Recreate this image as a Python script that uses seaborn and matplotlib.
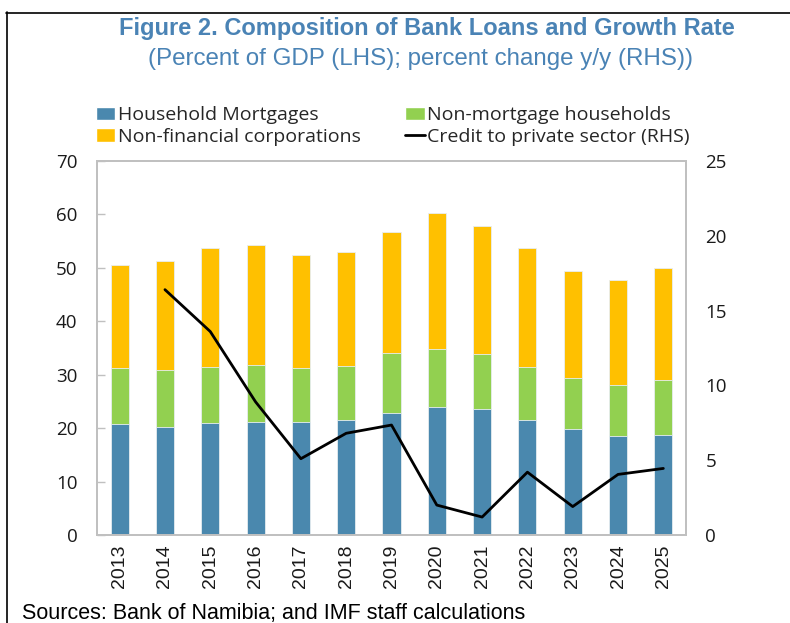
import numpy as np
import pandas as pd
import matplotlib
matplotlib.use("Agg")
import matplotlib.pyplot as plt
from matplotlib.patches import Patch
from matplotlib.lines import Line2D
from matplotlib.ticker import FixedLocator
import seaborn as sns

years = ["2013", "2014", "2015", "2016", "2017", "2018", "2019",
         "2020", "2021", "2022", "2023", "2024", "2025"]
mortgages = [20.7, 20.3, 21.0, 21.2, 21.1, 21.6, 22.9, 24.0, 23.5, 21.6, 19.9, 18.6, 18.8]
non_mortgage = [10.5, 10.5, 10.4, 10.6, 10.1, 10.1, 11.1, 10.8, 10.3, 9.9, 9.4, 9.4, 10.2]
corporations = [19.3, 20.5, 22.3, 22.5, 21.2, 21.3, 22.8, 25.4, 24.0, 22.3, 20.2, 19.8, 21.0]
credit = [np.nan, 16.4, 13.6, 8.9, 5.1, 6.8, 7.35, 2.0, 1.2, 4.2, 1.9, 4.05, 4.45]

labels = ["Household Mortgages", "Non-mortgage households",
          "Non-financial corporations", "Credit to private sector (RHS)"]

C_BLUE = "#4A88AE"
C_GREEN = "#92D050"
C_ORANGE = "#FFC000"
C_TITLE = "#4A83B5"
GRID = "#C0C0C0"

sns.set_theme(style="white")
plt.rcParams["font.family"] = ["Open Sans", "DejaVu Sans"]

W, H = 790, 623
fig = plt.figure(figsize=(W / 100, H / 100), dpi=100)

def fx(px):
    return px / W

def fy(py):
    return 1 - py / H

ax = fig.add_axes([fx(97), fy(535), fx(686) - fx(97), fy(161) - fy(535)])

df = pd.DataFrame({"year": years, "m": mortgages, "n": non_mortgage, "c": corporations})
df["top_c"] = df["m"] + df["n"] + df["c"]
df["top_n"] = df["m"] + df["n"]

bar_kw = dict(width=0.40, edgecolor="#E8EEF2", linewidth=0.6, saturation=1, order=years)
sns.barplot(data=df, x="year", y="top_c", color=C_ORANGE, ax=ax, **bar_kw)
sns.barplot(data=df, x="year", y="top_n", color=C_GREEN, ax=ax, **bar_kw)
sns.barplot(data=df, x="year", y="m", color=C_BLUE, ax=ax, **bar_kw)

ax.set_xlim(-0.5, len(years) - 0.5)
ax.set_ylim(0, 70)
ax.set_yticks(range(0, 71, 10))
ax.set_xlabel("")
ax.set_ylabel("")

ax2 = ax.twinx()
ldf = pd.DataFrame({"pos": np.arange(len(years)), "credit": credit}).dropna()
sns.lineplot(data=ldf, x="pos", y="credit", color="black", linewidth=2.0, ax=ax2)
ax2.set_ylim(0, 25)
ax2.set_yticks(range(0, 26, 5))
ax2.set_xlim(-0.5, len(years) - 0.5)
ax2.set_xlabel("")
ax2.set_ylabel("")

for a in (ax, ax2):
    for s in a.spines.values():
        s.set_color(GRID)
        s.set_linewidth(1.3)
        s.set_visible(True)

ax.tick_params(axis="y", direction="in", length=6, width=1.0, color=GRID,
               labelsize=13.5, labelcolor="#1a1a1a", pad=14)
ax2.tick_params(axis="y", length=0, labelsize=13.5, labelcolor="#1a1a1a", pad=14)
ax2.tick_params(axis="x", which="both", length=0, labelbottom=False)

ax.set_xticks(range(len(years)))
ax.set_xticklabels(years, rotation=90, fontfamily="Liberation Sans", fontsize=14, color="#1a1a1a")
ax.tick_params(axis="x", which="major", length=0, pad=7)
ax.xaxis.set_minor_locator(FixedLocator(np.arange(0.5, len(years) - 0.5, 1)))
ax.tick_params(axis="x", which="minor", direction="in", length=6, width=1.0, color=GRID)

# Title
fig.text(fx(427), fy(29), "Figure 2. Composition of Bank Loans and Growth Rate",
         ha="center", va="center", fontsize=17, fontweight="bold",
         color=C_TITLE, family="Liberation Sans")
fig.text(fx(421), fy(59), "(Percent of GDP (LHS); percent change y/y (RHS))",
         ha="center", va="center", fontsize=17.4, color=C_TITLE, family="Liberation Sans")

# Legend
handles = [Patch(facecolor=C_BLUE), Patch(facecolor=C_ORANGE),
           Patch(facecolor=C_GREEN), Line2D([0], [0], color="black", lw=2)]
leg_labels = [labels[0], labels[2], labels[1], labels[3]]
fig.legend(handles, leg_labels, ncol=2, loc="upper left",
           bbox_to_anchor=(fx(96), fy(106)), frameon=False, fontsize=14,
           handlelength=1.0, handleheight=0.67, handletextpad=0.12,
           columnspacing=2.3, labelspacing=0.2, borderpad=0, borderaxespad=0)

# Source
fig.text(fx(22), fy(618.5), "Sources: Bank of Namibia; and IMF staff calculations",
         ha="left", va="baseline", fontsize=15.5, family="Liberation Sans", color="black")

# Outer frame (partially visible)
fig.add_artist(Line2D([fx(6), fx(820)], [fy(12.5), fy(12.5)], color="black", lw=1.2,
                      transform=fig.transFigure))
fig.add_artist(Line2D([fx(6.5), fx(6.5)], [fy(12), fy(660)], color="black", lw=1.2,
                      transform=fig.transFigure))

fig.savefig("out.png", dpi=100)
